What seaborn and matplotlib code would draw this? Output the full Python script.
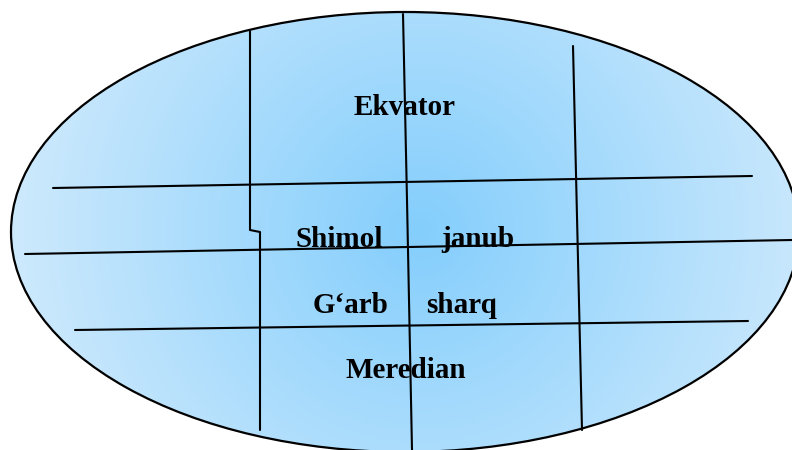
import numpy as np
import matplotlib.pyplot as plt
import seaborn as sns
from matplotlib.patches import Ellipse
from matplotlib.colors import LinearSegmentedColormap

# labels and where they sit (pixel coords, y down)
labels = ["Ekvator", "Shimol", "janub", "G\u2018arb", "sharq", "Meredian"]
label_x = [405, 339, 478, 351, 462, 406]
label_y = [115, 247, 247, 313, 313, 378]

# grid lines inside the ellipse
h_lines = [
    ([53, 752], [188, 176]),
    ([25, 792], [254, 240]),
    ([75, 748], [330, 321]),
]
v_lines = [
    ([250, 250, 260, 260], [31, 230, 232, 430]),
    ([403, 407, 412], [14, 200, 450]),
    ([573, 582], [46, 430]),
]

# ellipse outline
ell_center = (405, 232)
ell_width = 788
ell_height = 440

sns.set_style("white")
fig = plt.figure(figsize=(7.92, 4.5), dpi=100)
ax = fig.add_axes([0, 0, 1, 1])
ax.set_xlim(0, 792)
ax.set_ylim(450, 0)
ax.axis("off")

# radial gradient fill clipped to the ellipse
cmap = LinearSegmentedColormap.from_list("sky", ["#84CEFC", "#CFEAFC"])
gx, gy = np.meshgrid(np.linspace(0, 800, 400), np.linspace(0, 460, 230))
r = np.sqrt((gx - 420) ** 2 + (gy - 230) ** 2) / 420
ell = Ellipse(ell_center, ell_width, ell_height, facecolor="none",
              edgecolor="black", linewidth=1.6, zorder=3)
img = ax.imshow(np.clip(r, 0, 1), cmap=cmap, extent=[0, 800, 460, 0],
                origin="upper", zorder=1, vmin=0, vmax=1)
ax.add_patch(ell)
img.set_clip_path(ell)

for xs, ys in h_lines + v_lines:
    ax.plot(xs, ys, color="black", linewidth=1.5, zorder=2)

for t, x, y in zip(labels, label_x, label_y):
    ax.text(x, y, t, ha="center", va="baseline", fontsize=21, color="black",
            fontweight="bold", family=["Liberation Serif", "DejaVu Serif"], zorder=4)

ax.set_xlim(0, 792)
ax.set_ylim(450, 0)
fig.savefig("out.png", dpi=100)
